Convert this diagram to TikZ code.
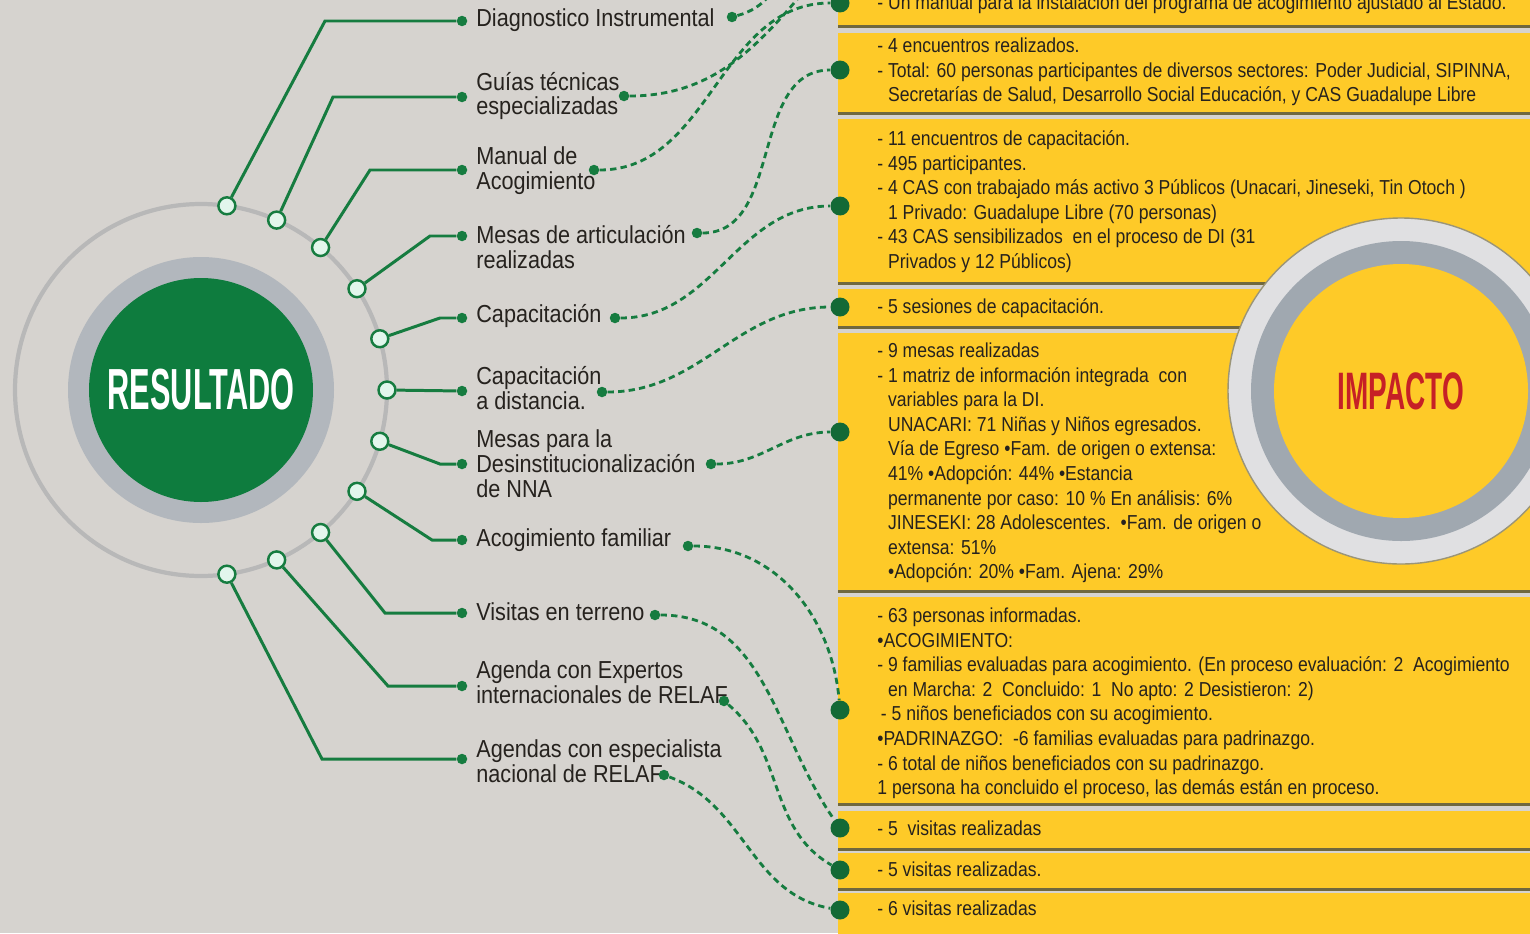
\documentclass[tikz,border=0pt]{standalone}
\usepackage{fontspec}
\setmainfont{Liberation Sans}
\newfontfamily\lblfont{Liberation Sans}[FakeStretch=0.88]
\newfontfamily\boxfont{Liberation Sans}[FakeStretch=0.87]
\newfontfamily\headfont{Liberation Sans Bold}[FakeStretch=0.53]
\definecolor{bgcol}{RGB}{214,211,207}
\definecolor{leaf}{RGB}{22,124,64}
\definecolor{disc}{RGB}{14,124,62}
\definecolor{mint}{RGB}{226,246,236}
\definecolor{yel}{RGB}{254,202,40}
\definecolor{boxedge}{RGB}{112,104,62}
\definecolor{ink}{RGB}{38,34,30}
\definecolor{impred}{RGB}{198,32,38}
\definecolor{steel}{RGB}{178,183,189}
\definecolor{pale}{RGB}{224,224,226}
\definecolor{bluegray}{RGB}{160,168,176}
\definecolor{ringgray}{RGB}{184,184,184}

\tikzstyle{ringnode} = [circle, minimum size=0.34cm, inner sep=0pt, fill=mint, draw=leaf, line width=1.4pt]
\tikzstyle{bullet} = [circle, minimum size=0.21cm, inner sep=0pt, fill=leaf]
\tikzstyle{boxbullet} = [circle, minimum size=0.38cm, inner sep=0pt, fill=leaf!85!black]
\tikzstyle{leg} = [draw=leaf, line width=1.7pt]
\tikzstyle{dashleg} = [draw=leaf, line width=1.6pt, dash pattern=on 3.6pt off 2.4pt]
\tikzstyle{lbl} = [anchor=west, inner sep=0pt, align=left, text=ink, font=\lblfont\fontsize{14}{14.2}\selectfont]
\tikzstyle{boxtxt} = [anchor=north west, inner sep=0pt, align=left, text=ink, font=\boxfont\fontsize{11.5}{14}\selectfont]

\begin{document}
\begin{tikzpicture}[x=0.02cm,y=0.02cm]
    \clip (0,0) rectangle (1530,-933);
    \fill[bgcol] (0,0) rectangle (1530,-933);

    % yellow boxes
    \foreach \t/\b in {0/25,33/112,119/282,289/326,333/590,597/803,811/848,853/888,893/945} {
        \fill[boxedge] (838,-\t-2) rectangle (1540,-\b-3);
        \fill[yel] (838,-\t) rectangle (1540,-\b);
    }

    % impacto
    \fill[pale] (1401,-391) circle (173);
    \draw[boxedge!70, line width=0.8pt] (1401,-391) circle (173);
    \fill[bluegray] (1401,-391) circle (150);
    \fill[yel] (1401,-391) circle (127);
    \node[font=\headfont\fontsize{30}{30}\selectfont, text=impred] (impacto) at (1401,-391) {IMPACTO};

    % resultado
    \draw[ringgray, line width=2.4pt] (201,-390) circle (186);
    \fill[steel] (201,-390) circle (133);
    \fill[disc] (201,-390) circle (112);
    \node[font=\headfont\fontsize{33}{33}\selectfont, text=white] (resultado) at (201,-390) {RESULTADO};

    \foreach \n/\a in {1/82,2/66,3/50,4/33,5/16,6/0,7/-16,8/-33,9/-50,10/-66,11/-82}
        \path (201,-390) ++(\a:186) node[ringnode] (r\n) {};
    \foreach \n/\y in {1/21,2/97,3/170,4/236,5/318,6/391,7/464,8/540,9/613,10/686,11/759}
        \node[bullet] (b\n) at (462,-\y) {};

    \draw[leg] (r1) -- (325,-21) -- (b1);
    \draw[leg] (r2) -- (333,-97) -- (b2);
    \draw[leg] (r3) -- (370,-170) -- (b3);
    \draw[leg] (r4) -- (430,-236) -- (b4);
    \draw[leg] (r5) -- (440,-318) -- (b5);
    \draw[leg] (r6) -- (b6);
    \draw[leg] (r7) -- (440,-464) -- (b7);
    \draw[leg] (r8) -- (432,-540) -- (b8);
    \draw[leg] (r9) -- (385,-613) -- (b9);
    \draw[leg] (r10) -- (388,-686) -- (b10);
    \draw[leg] (r11) -- (322,-759) -- (b11);

    \node[lbl] (l1) at (476,-20) {Diagnostico Instrumental};
    \node[lbl] (l2) at (476,-96) {Guías técnicas\\especializadas};
    \node[lbl] (l3) at (476,-171) {Manual de\\Acogimiento};
    \node[lbl] (l4) at (476,-247) {Mesas de articulación\\realizadas};
    \node[lbl] (l5) at (476,-316) {Capacitación};
    \node[lbl] (l6) at (476,-388) {Capacitación\\a distancia.};
    \node[lbl] (l7) at (476,-464) {Mesas para la\\Desinstitucionalización\\de NNA};
    \node[lbl] (l8) at (476,-540) {Acogimiento familiar};
    \node[lbl] (l9) at (476,-612) {Visitas en terreno};
    \node[lbl] (l10) at (476,-682) {Agenda con Expertos\\internacionales de RELAF};
    \node[lbl] (l11) at (476,-761) {Agendas con especialista\\nacional de RELAF};

    \foreach \n/\x/\y in {1/732/17,2/624/96,3/594/170,4/697/233,5/615/318,6/602/392,7/711/464,8/688/546,9/655/615,10/724/701,11/664/775}
        \node[bullet] (e\n) at (\x,-\y) {};
    \foreach \n/\y in {0/3,1/70,2/206,3/307,4/432,5/710,6/828,7/870,8/910}
        \node[boxbullet] (d\n) at (840,-\y) {};

    % dashed links
    \coordinate (up1) at (790,40);
    \coordinate (up2) at (830,40);
    \draw[dashleg] (e1) to[out=15,in=-115] (up1);
    \draw[dashleg] (e2) to[out=0,in=-130] (up2);
    \draw[dashleg] (e3) to[out=0,in=180] (d0);
    \draw[dashleg] (e4) to[out=0,in=180] (d1);
    \draw[dashleg] (e5) to[out=0,in=180] (d2);
    \draw[dashleg] (e6) to[out=0,in=180] (d3);
    \draw[dashleg] (e7) to[out=0,in=180] (d4);
    \draw[dashleg] (e8) to[out=0,in=95] (d5);
    \draw[dashleg] (e9) to[out=0,in=125] (d6);
    \draw[dashleg] (e10) to[out=-40,in=150] (d7);
    \draw[dashleg] (e11) to[out=-20,in=170] (d8);

    \node[boxtxt] (t0) at (877,8) {\strut- Un manual para la instalación del programa de acogimiento ajustado al Estado.};
    \node[boxtxt] (t1) at (877,-35) {\strut- 4 encuentros realizados.\\- Total: 60 personas participantes de diversos sectores: Poder Judicial, SIPINNA,\\\phantom{- }Secretarías de Salud, Desarrollo Social Educación, y CAS Guadalupe Libre};
    \node[boxtxt] (t2) at (877,-128) {\strut- 11 encuentros de capacitación.\\- 495 participantes.\\- 4 CAS con trabajado más activo 3 Públicos (Unacari, Jineseki, Tin Otoch )\\\phantom{- }1 Privado: Guadalupe Libre (70 personas)\\- 43 CAS sensibilizados\ \ en el proceso de DI (31\\\phantom{- }Privados y 12 Públicos)};
    \node[boxtxt] (t3) at (877,-296) {\strut- 5 sesiones de capacitación.};
    \node[boxtxt] (t4) at (877,-340) {\strut- 9 mesas realizadas\\- 1 matriz de información integrada\ \ con\\\phantom{- }variables para la DI.\\\phantom{- }UNACARI: 71 Niñas y Niños egresados.\\\phantom{- }Vía de Egreso •Fam. de origen o extensa:\\\phantom{- }41\% •Adopción: 44\% •Estancia\\\phantom{- }permanente por caso: 10 \% En análisis: 6\%\\\phantom{- }JINESEKI: 28 Adolescentes.\ \ •Fam. de origen o\\\phantom{- }extensa: 51\%\\\phantom{- }•Adopción: 20\% •Fam. Ajena: 29\%};
    \node[boxtxt] (t5) at (877,-605) {\strut- 63 personas informadas.\\•ACOGIMIENTO:\\- 9 familias evaluadas para acogimiento. (En proceso evaluación: 2\ \ Acogimiento\\\phantom{- }en Marcha: 2\ \ Concluido: 1\ \ No apto: 2 Desistieron: 2)\\\hspace*{2pt}- 5 niños beneficiados con su acogimiento.\\•PADRINAZGO:\ \ -6 familias evaluadas para padrinazgo.\\- 6 total de niños beneficiados con su padrinazgo.\\1 persona ha concluido el proceso, las demás están en proceso.};
    \node[boxtxt] (t6) at (877,-818) {\strut- 5\ \ visitas realizadas};
    \node[boxtxt] (t7) at (877,-859) {\strut- 5 visitas realizadas.};
    \node[boxtxt] (t8) at (877,-898) {\strut- 6 visitas realizadas};
\end{tikzpicture}
\end{document}
